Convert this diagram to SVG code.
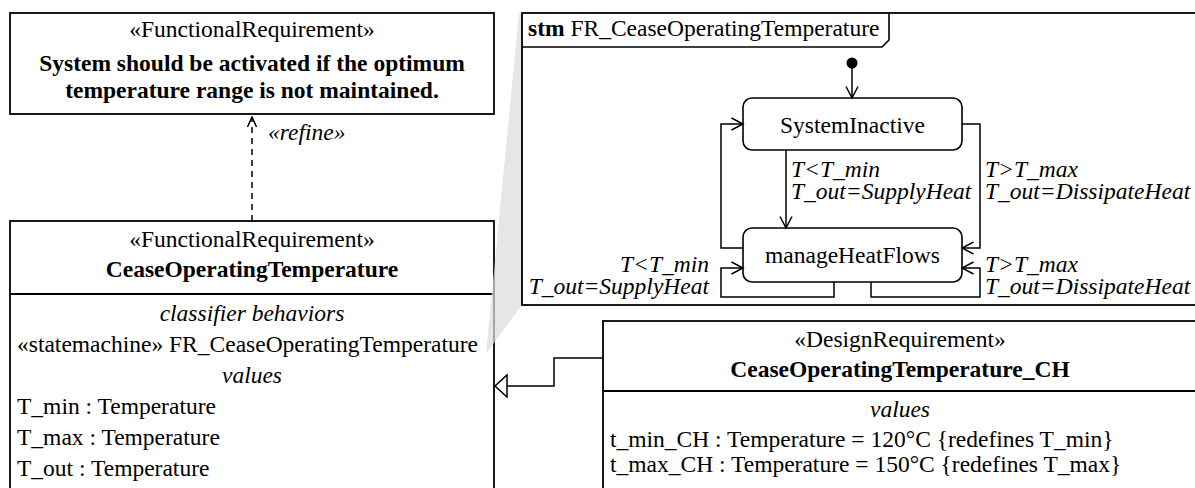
<svg xmlns="http://www.w3.org/2000/svg" width="1195" height="488" viewBox="0 0 1195 488">
  <style>
    text { font-family: "Liberation Serif", "Times New Roman", serif; font-size: 23.5px; fill: #000; }
    .c { text-anchor: middle; }
    .e { text-anchor: end; }
    .b { font-weight: bold; }
    .i { font-style: italic; }
    .box { fill: #fff; stroke: #000; stroke-width: 1.8; }
    .div { stroke: #000; stroke-width: 1.8; }
    .state { fill: #fff; stroke: #000; stroke-width: 1.6; }
    .line { fill: none; stroke: #000; stroke-width: 1.5; }
    .dash { stroke-dasharray: 6 5; }
    .trans { marker-end: url(#open); }
  </style>
  <defs>
    <marker id="open" viewBox="-1 -1 14 14" refX="11.5" refY="6" markerWidth="14" markerHeight="14" markerUnits="userSpaceOnUse" orient="auto">
      <path d="M0,0 L11.5,6 L0,12" fill="none" stroke="#000" stroke-width="1.5"/>
    </marker>
    <marker id="open-small" viewBox="-1 -1 12 11" refX="10" refY="4.5" markerWidth="12" markerHeight="11" markerUnits="userSpaceOnUse" orient="auto">
      <path d="M0,0 L10,4.5 L0,9" fill="none" stroke="#000" stroke-width="1.5"/>
    </marker>
    <marker id="hollow-tri" viewBox="-1 -1 15 25" refX="12" refY="11" markerWidth="15" markerHeight="25" markerUnits="userSpaceOnUse" orient="auto">
      <path d="M0,0 L12,11 L0,22 Z" fill="#fff" stroke="#000" stroke-width="1.5"/>
    </marker>
  </defs>
  <rect width="1195" height="488" fill="#fff"/>

  <!-- top-level functional requirement -->
  <g id="req-system-activation">
    <rect class="box" x="10" y="13" width="484" height="101"/>
    <text class="c" x="252" y="37">«FunctionalRequirement»</text>
    <text class="c b" x="252" y="71">System should be activated if the optimum</text>
    <text class="c b" x="252" y="98">temperature range is not maintained.</text>
  </g>

  <!-- refined functional requirement with its compartments -->
  <g id="req-cease-operating-temperature">
    <rect class="box" x="10" y="221" width="484" height="290"/>
    <line class="div" x1="10" y1="294" x2="494" y2="294"/>
    <text class="c" x="252" y="247">«FunctionalRequirement»</text>
    <text class="c b" x="252" y="277">CeaseOperatingTemperature</text>
    <text class="c i" x="252" y="321">classifier behaviors</text>
    <text x="17" y="352">«statemachine» FR_CeaseOperatingTemperature</text>
    <text class="c i" x="252" y="383">values</text>
    <text x="17" y="414">T_min : Temperature</text>
    <text x="17" y="445">T_max : Temperature</text>
    <text x="17" y="476">T_out : Temperature</text>
  </g>

  <!-- callout wedge from the classifier behavior to its state machine -->
  <polygon id="behavior-callout" points="519,13 522,13 522,305 486,354" fill="#dddddd" fill-opacity="0.72"/>

  <!-- state machine frame -->
  <g id="stm-frame">
    <rect fill="none" stroke="#000" stroke-width="1.8" x="522" y="13" width="690" height="292"/>
    <path d="M522,47 H882 L889,40 V13" fill="none" stroke="#000" stroke-width="1.6"/>
    <text x="528" y="36"><tspan class="b">stm</tspan> FR_CeaseOperatingTemperature</text>
  </g>

  <g id="initial-state">
    <circle cx="852" cy="63" r="5.5" fill="#000"/>
  </g>

  <g id="state-system-inactive">
    <rect class="state" x="743" y="98" width="219" height="52" rx="9"/>
    <text class="c" x="852.5" y="133">SystemInactive</text>
  </g>

  <g id="state-manage-heat-flows">
    <rect class="state" x="743" y="228" width="219" height="54" rx="9"/>
    <text class="c" x="852.5" y="263">manageHeatFlows</text>
  </g>

  <!-- design requirement specialising the functional requirement -->
  <g id="req-cease-operating-temperature-ch">
    <rect class="box" x="603" y="321" width="600" height="200"/>
    <line class="div" x1="603" y1="391" x2="1203" y2="391"/>
    <text class="c" x="900" y="347">«DesignRequirement»</text>
    <text class="c b" x="900" y="377">CeaseOperatingTemperature_CH</text>
    <text class="c i" x="900" y="417">values</text>
    <text x="610" y="447">t_min_CH : Temperature = 120°C {redefines T_min}</text>
    <text x="610" y="472">t_max_CH : Temperature = 150°C {redefines T_max}</text>
  </g>

  <g id="connectors">
    <!-- refine dependency -->
    <path class="line dash" d="M252,221 V117" marker-end="url(#open-small)"/>
    <text class="i" x="268" y="140">«refine»</text>

    <!-- generalization -->
    <path class="line" d="M603,358 H554 V386 H495" marker-end="url(#hollow-tri)"/>

    <!-- transitions -->
    <path class="line trans" d="M852,68 V98"/>
    <path class="line trans" d="M786,150 V228"/>
    <text class="i" x="791" y="176.5">T&lt;T_min</text>
    <text class="i" x="791" y="198.5">T_out=SupplyHeat</text>

    <path class="line trans" d="M962,124 H980 V248 H962"/>
    <text class="i" x="985" y="176.5">T&gt;T_max</text>
    <text class="i" x="985" y="198.5">T_out=DissipateHeat</text>

    <path class="line trans" d="M743,248 H721 V124 H743"/>

    <path class="line trans" d="M834,282 V297 H721 V268 H743"/>
    <text class="i e" x="709" y="271.5">T&lt;T_min</text>
    <text class="i e" x="709" y="293.5">T_out=SupplyHeat</text>

    <path class="line trans" d="M871,282 V297 H980 V268 H962"/>
    <text class="i" x="985" y="271.5">T&gt;T_max</text>
    <text class="i" x="985" y="293.5">T_out=DissipateHeat</text>
  </g>
</svg>
